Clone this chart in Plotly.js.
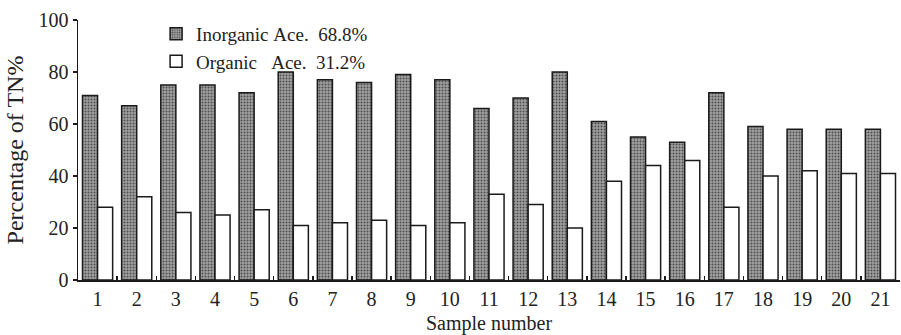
<!DOCTYPE html>
<html>
<head>
<meta charset="utf-8">
<script src="https://cdn.plot.ly/plotly-3.0.1.min.js"></script>
<style>
html,body{margin:0;padding:0;background:#fff;}
#chart{width:901px;height:335px;}
</style>
</head>
<body>
<div id="chart"></div>
<script>
const samples = ['1','2','3','4','5','6','7','8','9','10','11','12','13','14','15','16','17','18','19','20','21'];
const inorganic = [71,67,75,75,72,80,77,76,79,77,66,70,80,61,55,53,72,59,58,58,58];
const organic = [28,32,26,25,27,21,22,23,21,22,33,29,20,38,44,46,28,40,42,41,41];
const seriesNames = ['Inorganic\u00a0Ace.\u00a0\u00a068.8%', 'Organic\u00a0\u00a0\u00a0Ace.\u00a0\u00a031.2%'];
const xTitle = 'Sample number';
const yTitle = 'Percentage of TN%';

const serif = 'Liberation Serif, Times New Roman, serif';

const traces = [
  {
    type: 'bar', x: samples, y: inorganic, name: seriesNames[0],
    marker: {
      color: '#8a8a8a',
      line: {color: '#1a1a1a', width: 1.5},
      pattern: {shape: '.', fillmode: 'replace', bgcolor: '#a0a0a0', fgcolor: '#4f4f4f', size: 3, solidity: 0.35}
    }
  },
  {
    type: 'bar', x: samples, y: organic, name: seriesNames[1],
    marker: {color: '#ffffff', line: {color: '#1a1a1a', width: 1.5}}
  }
];

const layout = {
  width: 901, height: 335,
  margin: {l: 78, r: 1, t: 20, b: 55},
  paper_bgcolor: '#ffffff', plot_bgcolor: '#ffffff',
  barmode: 'group', bargap: 0.23, bargroupgap: 0,
  font: {family: serif, size: 20, color: '#222'},
  showlegend: true,
  legend: {
    x: 0.095, y: 1.02, xanchor: 'left', yanchor: 'top',
    bgcolor: 'rgba(0,0,0,0)', font: {family: serif, size: 19, color: '#222'},
    tracegroupgap: 0, itemwidth: 30
  },
  xaxis: {
    type: 'category', range: [-0.5, 20.5],
    showline: true, linecolor: '#1a1a1a', linewidth: 1.5,
    ticks: 'inside', tickson: 'boundaries', ticklen: 4, tickwidth: 1.5, tickcolor: '#1a1a1a',
    showgrid: false, zeroline: false,
    tickfont: {family: serif, size: 20, color: '#222'}
  },
  yaxis: {
    range: [0, 100], dtick: 20, tick0: 0,
    showline: true, linecolor: '#1a1a1a', linewidth: 1.5,
    ticks: 'outside', ticklen: 4, tickwidth: 1.5, tickcolor: '#1a1a1a',
    showgrid: false, zeroline: false,
    tickfont: {family: serif, size: 20, color: '#222'},
    title: {text: yTitle, font: {family: serif, size: 24, color: '#222'}, standoff: 8}
  },
  annotations: [
    {text: xTitle, xref: 'paper', yref: 'paper', x: 0.5, y: -0.166, xanchor: 'center', yanchor: 'middle',
     showarrow: false, font: {family: serif, size: 20, color: '#222'}}
  ]
};

Plotly.newPlot('chart', traces, layout, {displayModeBar: false, staticPlot: true});
</script>
</body>
</html>
